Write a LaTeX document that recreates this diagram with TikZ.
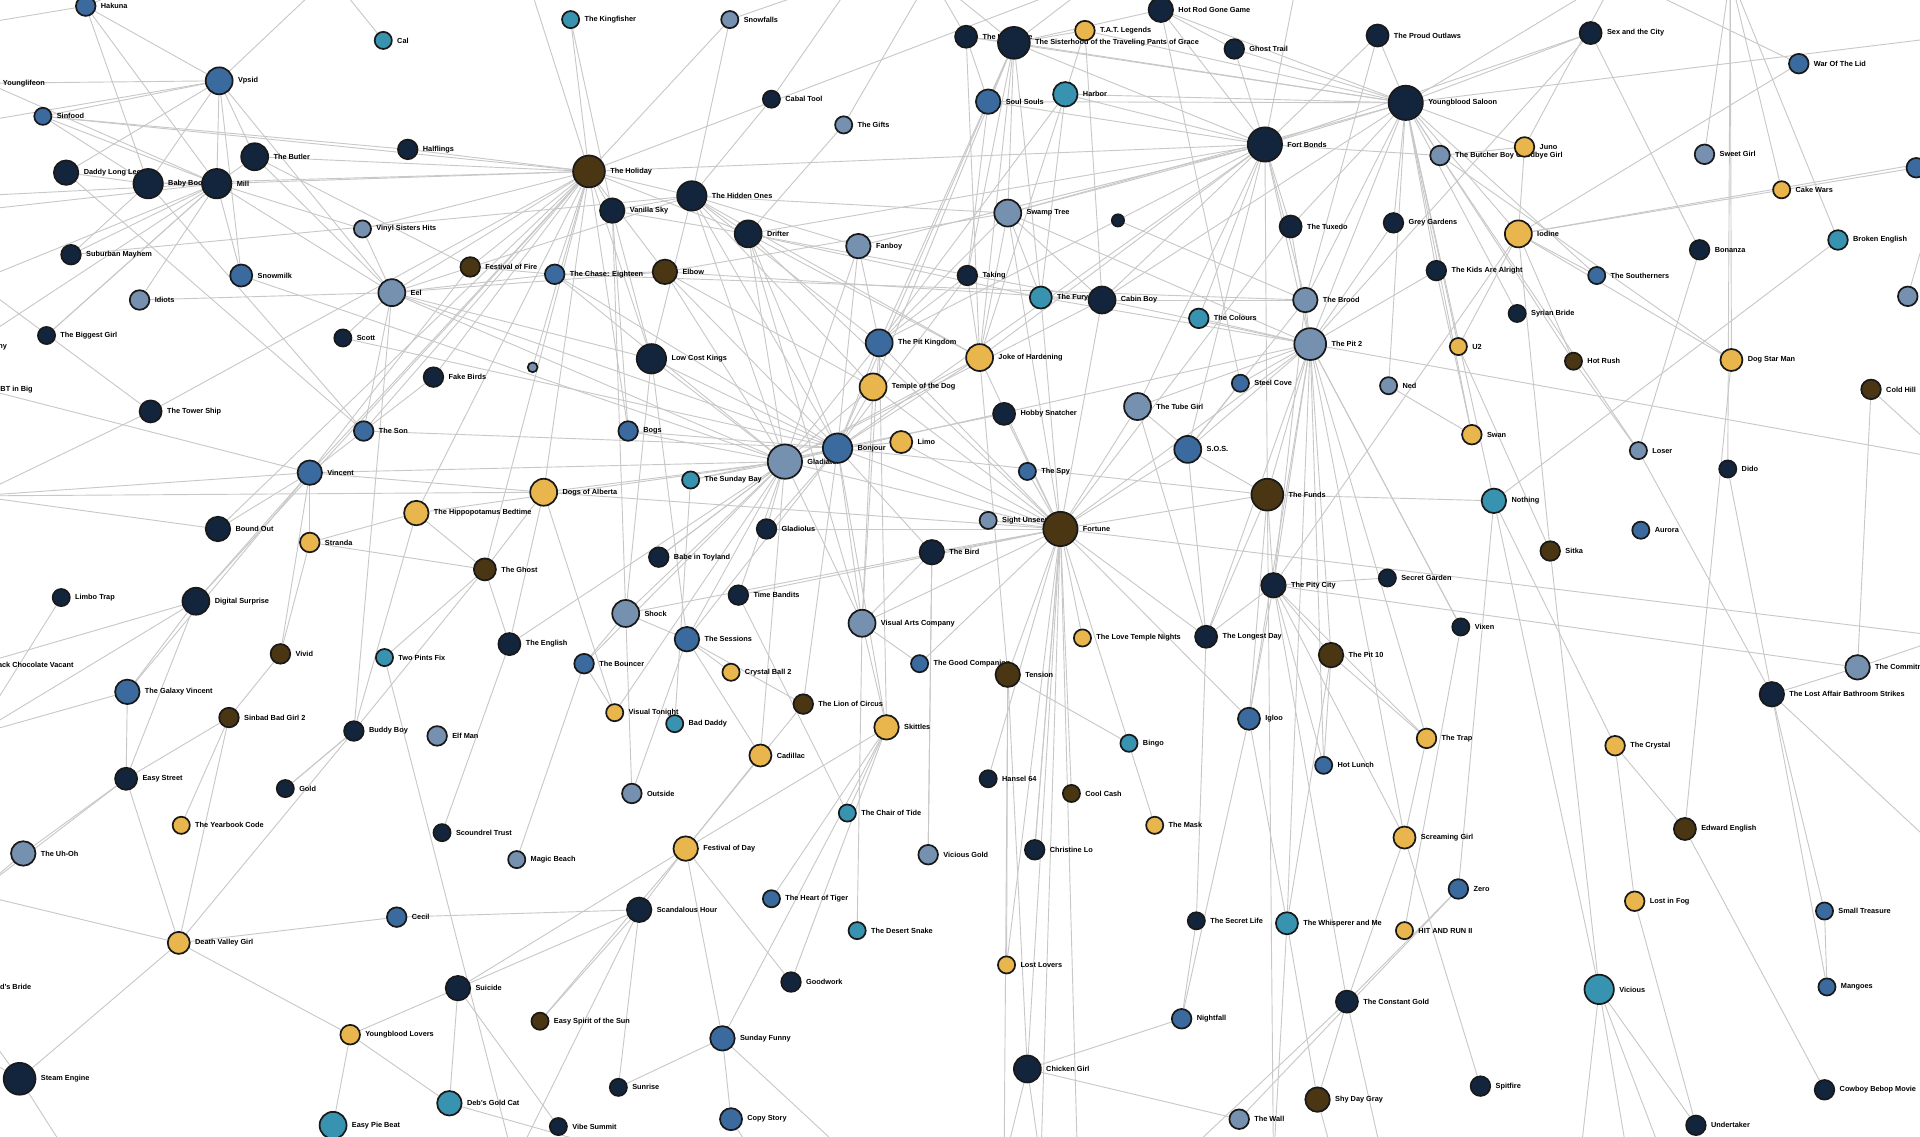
\documentclass[tikz,border=0pt]{standalone}
\usepackage{fontspec}
\setmainfont{Liberation Sans}
\usetikzlibrary{backgrounds}
\pgfdeclarelayer{bg}
\pgfsetlayers{bg,main}
\definecolor{cN}{HTML}{13253C}
\definecolor{cB}{HTML}{3B6A9E}
\definecolor{cS}{HTML}{7690B0}
\definecolor{cT}{HTML}{3893B1}
\definecolor{cG}{HTML}{E9B54D}
\definecolor{cR}{HTML}{4A3613}
\definecolor{edgec}{HTML}{C8C8C8}
\tikzset{
  vtx/.style={circle,draw=black!90,line width=1.4pt,inner sep=0pt},
  lbl/.style={font=\fontsize{6}{7}\selectfont\bfseries,inner sep=0.5pt,label distance=3pt,text=black},
  edge/.style={draw=edgec,line width=0.75pt}
}
\newcommand\nd[6]{\node[vtx,fill=#5,minimum size=#4*2pt,label={[lbl]0:#6}] (#1) at (#2,#3) {};}
\begin{document}
\begin{tikzpicture}[x=1pt,y=-1pt]
\useasboundingbox (0,0) rectangle (1568,928);
% nodes
\nd{a01}{70}{5}{8}{cB}{Hakuna}
\nd{a02}{313}{33}{7}{cT}{Cal}
\nd{a03}{466}{16}{7}{cT}{The Kingfisher}
\nd{a04}{596}{16}{7}{cS}{Snowfalls}
\nd{a05}{789}{30}{9}{cN}{The Incredible}
\nd{a06}{828}{35}{13}{cN}{The Sisterhood of the Traveling Pants of Grace}
\nd{a07}{886}{25}{8}{cG}{T.A.T. Legends}
\nd{a08}{948}{8}{10}{cN}{Hot Rod Gone Game}
\nd{a09}{1008}{40}{8}{cN}{Ghost Trail}
\nd{a10}{1125}{29}{9}{cN}{The Proud Outlaws}
\nd{a11}{1299}{27}{9}{cN}{Sex and the City}
\nd{a12}{1469}{52}{8}{cB}{War Of The Lid}
\nd{a13}{1565}{137}{8}{cB}{}
\nd{a14}{179}{66}{11}{cB}{Vpsid}
\nd{a15}{35}{95}{7}{cB}{Sinfood}
\nd{a17}{630}{81}{7}{cN}{Cabal Tool}
\nd{a18}{689}{102}{7}{cS}{The Gifts}
\nd{a19}{807}{83}{10}{cB}{Soul Souls}
\nd{a20}{870}{77}{10}{cT}{Harbor}
\nd{a21}{1033}{118}{14}{cN}{Fort Bonds}
\nd{a22}{1148}{84}{14}{cN}{Youngblood Saloon}
\nd{a23}{1176}{127}{8}{cS}{The Butcher Boy Goodbye Girl}
\nd{a24}{1245}{120}{8}{cG}{Juno}
\nd{a25}{1392}{126}{8}{cS}{Sweet Girl}
\nd{a26}{1455}{155}{7}{cG}{Cake Wars}
\nd{a27}{1501}{196}{8}{cT}{Broken English}
\nd{a28}{1558}{242}{8}{cS}{}
\nd{a29}{333}{122}{8}{cN}{Halflings}
\nd{a30}{208}{128}{11}{cN}{The Butler}
\nd{a31}{54}{141}{10}{cN}{Daddy Long Legs}
\nd{a32}{121}{150}{12}{cN}{Baby Boom}
\nd{a33}{177}{150}{12}{cN}{Mill}
\nd{a34}{481}{140}{13}{cR}{The Holiday}
\nd{a35}{500}{172}{10}{cN}{Vanilla Sky}
\nd{a36}{565}{160}{12}{cN}{The Hidden Ones}
\nd{a37}{611}{191}{11}{cN}{Drifter}
\nd{a38}{701}{201}{10}{cS}{Fanboy}
\nd{a39}{823}{174}{11}{cS}{Swamp Tree}
\nd{a40}{913}{180}{5}{cN}{}
\nd{a41}{1054}{185}{9}{cN}{The Tuxedo}
\nd{a42}{1138}{182}{8}{cN}{Grey Gardens}
\nd{a43}{1240}{191}{11}{cG}{Iodine}
\nd{a44}{1388}{204}{8}{cN}{Bonanza}
\nd{a45}{1173}{221}{8}{cN}{The Kids Are Alright}
\nd{a46}{1304}{225}{7}{cB}{The Southerners}
\nd{a47}{1239}{256}{7}{cN}{Syrian Bride}
\nd{a48}{296}{187}{7}{cS}{Vinyl Sisters Hits}
\nd{a49}{58}{208}{8}{cN}{Suburban Mayhem}
\nd{a50}{197}{225}{9}{cB}{Snowmilk}
\nd{a51}{114}{245}{8}{cS}{Idiots}
\nd{a52}{38}{274}{7}{cN}{The Biggest Girl}
\nd{a53}{280}{276}{7}{cN}{Scott}
\nd{a54}{320}{239}{11}{cS}{Eel}
\nd{a55}{384}{218}{8}{cR}{Festival of Fire}
\nd{a56}{453}{224}{8}{cB}{The Chase: Eighteen}
\nd{a57}{543}{222}{10}{cR}{Elbow}
\nd{a58}{790}{225}{8}{cN}{Taking}
\nd{a59}{850}{243}{9}{cT}{The Fury}
\nd{a60}{900}{245}{11}{cN}{Cabin Boy}
\nd{a61}{979}{260}{8}{cT}{The Colours}
\nd{a62}{1066}{245}{10}{cS}{The Brood}
\nd{a63}{1070}{281}{13}{cS}{The Pit 2}
\nd{a64}{1191}{283}{7}{cG}{U2}
\nd{a65}{1285}{295}{7}{cR}{Hot Rush}
\nd{a66}{1414}{294}{9}{cG}{Dog Star Man}
\nd{a67}{1528}{318}{8}{cR}{Cold Hill}
\nd{a68}{1134}{315}{7}{cS}{Ned}
\nd{a69}{1013}{313}{7}{cB}{Steel Cove}
\nd{a70}{354}{308}{8}{cN}{Fake Birds}
\nd{a71}{435}{300}{4}{cS}{}
\nd{a72}{532}{293}{12}{cN}{Low Cost Kings}
\nd{a73}{718}{280}{11}{cB}{The Pit Kingdom}
\nd{a74}{800}{292}{11}{cG}{Joke of Hardening}
\nd{a75}{713}{316}{11}{cG}{Temple of the Dog}
\nd{a76}{820}{338}{9}{cN}{Hobby Snatcher}
\nd{a77}{929}{332}{11}{cS}{The Tube Girl}
\nd{a78}{123}{336}{9}{cN}{The Tower Ship}
\nd{a79}{297}{352}{8}{cB}{The Son}
\nd{a80}{513}{352}{8}{cB}{Bogs}
\nd{a81}{641}{377}{14}{cS}{Gladiator}
\nd{a82}{684}{366}{12}{cB}{Bonjour}
\nd{a83}{736}{361}{9}{cG}{Limo}
\nd{a84}{839}{385}{7}{cB}{The Spy}
\nd{a85}{970}{367}{11}{cB}{S.O.S.}
\nd{a86}{1202}{355}{8}{cG}{Swan}
\nd{a87}{1338}{368}{7}{cS}{Loser}
\nd{a88}{1411}{383}{7}{cN}{Dido}
\nd{a89}{253}{386}{10}{cB}{Vincent}
\nd{a90}{564}{392}{7}{cT}{The Sunday Bay}
\nd{a91}{444}{402}{11}{cG}{Dogs of Alberta}
\nd{a92}{340}{419}{10}{cG}{The Hippopotamus Bedtime}
\nd{a93}{1035}{404}{13}{cR}{The Funds}
\nd{a94}{1220}{409}{10}{cT}{Nothing}
\nd{a95}{807}{425}{7}{cS}{Sight Unseen}
\nd{a96}{866}{432}{14}{cR}{Fortune}
\nd{a97}{178}{432}{10}{cN}{Bound Out}
\nd{a98}{253}{443}{8}{cG}{Stranda}
\nd{a99}{626}{432}{8}{cN}{Gladiolus}
\nd{a100}{1340}{433}{7}{cB}{Aurora}
\nd{a101}{1266}{450}{8}{cR}{Sitka}
\nd{a102}{396}{465}{9}{cR}{The Ghost}
\nd{a103}{538}{455}{8}{cN}{Babe in Toyland}
\nd{a104}{761}{451}{10}{cN}{The Bird}
\nd{a105}{1040}{478}{10}{cN}{The Pity City}
\nd{a106}{1133}{472}{7}{cN}{Secret Garden}
\nd{a107}{50}{488}{7}{cN}{Limbo Trap}
\nd{a108}{160}{491}{11}{cN}{Digital Surprise}
\nd{a109}{603}{486}{8}{cN}{Time Bandits}
\nd{a110}{511}{501}{11}{cS}{Shock}
\nd{a111}{704}{509}{11}{cS}{Visual Arts Company}
\nd{a112}{1193}{512}{7}{cN}{Vixen}
\nd{a113}{561}{522}{10}{cB}{The Sessions}
\nd{a114}{229}{534}{8}{cR}{Vivid}
\nd{a115}{314}{537}{7}{cT}{Two Pints Fix}
\nd{a116}{416}{526}{9}{cN}{The English}
\nd{a117}{477}{542}{8}{cB}{The Bouncer}
\nd{a118}{985}{520}{9}{cN}{The Longest Day}
\nd{a119}{884}{521}{7}{cG}{The Love Temple Nights}
\nd{a120}{1087}{535}{10}{cR}{The Pit 10}
\nd{a121}{1517}{545}{10}{cS}{The Commitment}
\nd{a122}{1447}{567}{10}{cN}{The Lost Affair Bathroom Strikes}
\nd{a123}{104}{565}{10}{cB}{The Galaxy Vincent}
\nd{a124}{751}{542}{7}{cB}{The Good Companion}
\nd{a125}{823}{551}{10}{cR}{Tension}
\nd{a126}{597}{549}{7}{cG}{Crystal Ball 2}
\nd{a127}{656}{575}{8}{cR}{The Lion of Circus}
\nd{a128}{187}{586}{8}{cR}{Sinbad Bad Girl 2}
\nd{a129}{289}{597}{8}{cN}{Buddy Boy}
\nd{a130}{357}{601}{8}{cS}{Elf Man}
\nd{a131}{502}{582}{7}{cG}{Visual Tonight}
\nd{a132}{551}{591}{7}{cT}{Bad Daddy}
\nd{a133}{724}{594}{10}{cG}{Skittles}
\nd{a134}{621}{617}{9}{cG}{Cadillac}
\nd{a135}{1020}{587}{9}{cB}{Igloo}
\nd{a136}{922}{607}{7}{cT}{Bingo}
\nd{a137}{1165}{603}{8}{cG}{The Trap}
\nd{a138}{1319}{609}{8}{cG}{The Crystal}
\nd{a139}{1081}{625}{7}{cB}{Hot Lunch}
\nd{a140}{103}{636}{9}{cN}{Easy Street}
\nd{a141}{233}{644}{7}{cN}{Gold}
\nd{a142}{148}{674}{7}{cG}{The Yearbook Code}
\nd{a143}{516}{648}{8}{cS}{Outside}
\nd{a144}{807}{636}{7}{cN}{Hansel 64}
\nd{a145}{875}{648}{7}{cR}{Cool Cash}
\nd{a146}{943}{674}{7}{cG}{The Mask}
\nd{a147}{692}{664}{7}{cT}{The Chair of Tide}
\nd{a148}{19}{697}{10}{cS}{The Uh-Oh}
\nd{a149}{361}{680}{7}{cN}{Scoundrel Trust}
\nd{a150}{422}{702}{7}{cS}{Magic Beach}
\nd{a151}{560}{693}{10}{cG}{Festival of Day}
\nd{a152}{758}{698}{8}{cS}{Vicious Gold}
\nd{a153}{845}{694}{8}{cN}{Christine Lo}
\nd{a154}{1147}{684}{9}{cG}{Screaming Girl}
\nd{a155}{1376}{677}{9}{cR}{Edward English}
\nd{a156}{1191}{726}{8}{cB}{Zero}
\nd{a157}{1335}{736}{8}{cG}{Lost in Fog}
\nd{a158}{630}{734}{7}{cB}{The Heart of Tiger}
\nd{a159}{700}{760}{7}{cT}{The Desert Snake}
\nd{a160}{324}{749}{8}{cB}{Cecil}
\nd{a161}{522}{743}{10}{cN}{Scandalous Hour}
\nd{a162}{146}{770}{9}{cG}{Death Valley Girl}
\nd{a163}{977}{752}{7}{cN}{The Secret Life}
\nd{a164}{1051}{754}{9}{cT}{The Whisperer and Me}
\nd{a165}{1147}{760}{7}{cG}{HIT AND RUN II}
\nd{a166}{1490}{744}{7}{cB}{Small Treasure}
\nd{a167}{822}{788}{7}{cG}{Lost Lovers}
\nd{a168}{646}{802}{8}{cN}{Goodwork}
\nd{a169}{374}{807}{10}{cN}{Suicide}
\nd{a170}{1306}{808}{12}{cT}{Vicious}
\nd{a171}{1492}{806}{7}{cB}{Mangoes}
\nd{a172}{1100}{818}{9}{cN}{The Constant Gold}
\nd{a173}{965}{832}{8}{cB}{Nightfall}
\nd{a174}{441}{834}{7}{cR}{Easy Spirit of the Sun}
\nd{a175}{590}{848}{10}{cB}{Sunday Funny}
\nd{a176}{286}{845}{8}{cG}{Youngblood Lovers}
\nd{a177}{839}{873}{11}{cN}{Chicken Girl}
\nd{a178}{16}{881}{13}{cN}{Steam Engine}
\nd{a179}{1076}{898}{10}{cR}{Shy Day Gray}
\nd{a180}{1209}{887}{8}{cN}{Spitfire}
\nd{a181}{1490}{890}{8}{cN}{Cowboy Bebop Movie}
\nd{a182}{1012}{914}{8}{cS}{The Wall}
\nd{a183}{505}{888}{7}{cN}{Sunrise}
\nd{a184}{367}{901}{10}{cT}{Deb's Gold Cat}
\nd{a185}{272}{919}{11}{cT}{Easy Pie Beat}
\nd{a186}{456}{920}{7}{cN}{Vibe Summit}
\nd{a187}{597}{914}{9}{cB}{Copy Story}
\nd{a188}{1385}{919}{8}{cN}{Undertaker}
% partly hidden nodes at the left edge
\nd{L1}{-10}{68}{8}{cN}{Younglifeon}
\nd{L2}{-48}{175}{8}{cN}{Fallen Angel}
\nd{L3}{-25}{283}{8}{cN}{Sunny}
\nd{L4}{-12}{318}{8}{cN}{BT in Big}
\nd{L5}{-19}{543}{7}{cN}{Black Chocolate Vacant}
\nd{L6}{-38}{806}{8}{cN}{Bluebeard's Bride}
% free ends outside the picture
\coordinate (oT1) at (1413,-20); \coordinate (oT2) at (560,-20);
\coordinate (oT3) at (430,-20); \coordinate (oT4) at (900,-20);
\coordinate (oT5) at (130,-20); \coordinate (oT6) at (270,-20);
\coordinate (oT7) at (700,-20); \coordinate (oT8) at (1320,-20);
\coordinate (oT9) at (1060,-20); \coordinate (oT10) at (760,-20);
\coordinate (oL1) at (-20,100); \coordinate (oL2) at (-20,160);
\coordinate (oL3) at (-20,230); \coordinate (oL4) at (-20,405);
\coordinate (oL5) at (-20,600); \coordinate (oL6) at (-20,730);
\coordinate (oL7) at (-20,860); \coordinate (oL8) at (-20,20);
\coordinate (oR1) at (1590,130); \coordinate (oR2) at (1590,375);
\coordinate (oR3) at (1590,520); \coordinate (oR4) at (1590,700);
\coordinate (oR5) at (1590,30);
\coordinate (oB1) at (60,950); \coordinate (oB2) at (250,950);
\coordinate (oB3) at (420,950); \coordinate (oB4) at (540,950);
\coordinate (oB5) at (700,950); \coordinate (oB6) at (850,950);
\coordinate (oB7) at (880,950); \coordinate (oB8) at (1040,950);
\coordinate (oB9) at (1090,950); \coordinate (oB10) at (1290,950);
\coordinate (oB11) at (1330,950); \coordinate (oB12) at (1360,950);
\coordinate (oB13) at (620,950); \coordinate (oB14) at (820,950);
\coordinate (oB15) at (960,950); \coordinate (oB16) at (1130,950);
\begin{pgfonlayer}{bg}
\fill[white] (0,0) rectangle (1568,928);
\foreach \a/\b in {a01/a14,a01/a32,a01/a33,a01/oT5,a01/oL8,
a14/a33,a14/a30,a14/a31,a14/a32,a14/a54,a14/oL1,a14/oT6,a14/a15,a14/a50,
a33/a32,a33/a15,a33/a49,a33/a50,a33/a51,a33/a52,a33/a54,a33/oL2,a33/oL3,a33/a34,a33/a48,
a32/a31,a32/a34,a32/a15,a32/a49,a32/a79,
a30/a34,a30/a54,a30/a33,a30/a55,a31/a79,a15/a34,a29/a34,a29/a15,
a49/a36,a51/a54,a52/a33,a50/a81,a48/a34,a48/a54,a53/a54,a53/a82,
a54/a79,a54/a82,a54/a81,a54/a72,a54/a129,a54/a56,a54/a57,
a02/oT6,a03/a35,a03/a34,a04/a34,a04/a36,a04/oT7,a17/a36,a17/oT7,a18/a37,a18/oT10,
a35/a36,a35/a37,a35/a80,a35/a72,a35/a110,
a36/a37,a36/a81,a36/a82,a36/a75,a36/a73,a36/a39,a36/a38,a36/a72,a36/a54,a36/a74,
a37/a81,a37/a82,a37/a74,a37/a96,a37/a21,a37/a60,a37/a111,a37/a59,
a38/a81,a38/a21,a38/a73,a38/a82,
a55/a56,a55/a89,a56/a57,a56/a81,a56/a82,a56/a62,
a57/a81,a57/a82,a57/a75,a57/a60,a57/a39,
a70/a34,a70/a89,a71/a34,
a72/a81,a72/a82,a72/a34,a72/a110,a72/a113,
a34/a21,a34/a35,a34/a36,a34/a37,a34/a55,a34/a56,a34/a57,a34/a79,a34/a89,a34/a91,a34/a80,a34/a54,a34/a97,a34/a108,a34/a92,a34/a102,a34/oT3,a34/oT4,
a06/a05,a06/a07,a06/a21,a06/a22,a06/a19,a06/a39,a06/a58,a06/a59,a06/a73,a06/a74,a06/a08,a06/a75,a06/oT10,a06/oT4,
a05/a19,a05/a22,a05/a74,a05/oT10,a07/a20,a07/a22,a07/a60,
a08/a21,a08/a22,a08/a09,a08/a69,a09/a21,a09/a22,
a10/a22,a10/a21,a10/a62,a11/a22,a11/a21,a11/a44,a11/a63,
a12/a43,a12/oT8,a13/a43,a13/oR1,
a19/a21,a19/a22,a19/a58,a19/a82,a20/a21,a20/a22,a20/a74,a20/a73,a20/a59,
a21/a22,a21/a39,a21/a41,a21/a62,a21/a63,a21/a93,a21/a60,a21/a77,a21/a74,a21/a73,a21/a23,a21/a85,a21/oT9,a21/a82,
a22/a23,a22/a24,a22/a43,a22/a45,a22/a46,a22/a47,a22/a64,a22/a65,a22/a68,a22/a86,a22/a62,a22/a63,a22/a41,a22/a42,a22/a39,a22/a60,a22/a94,a22/oT8,a22/oR5,
a23/a66,a23/a24,a23/a87,a24/a43,a24/oT8,
a25/oT1,a26/oT1,a27/oT1,a27/a94,a28/oR1,
a43/a66,a43/a46,a43/a101,a43/a65,a43/a105,a43/a64,a43/oR1,
a44/a87,a45/a63,a45/a86,
a39/a60,a39/a59,a39/a74,a39/a73,a39/a96,a39/a63,a40/a62,
a41/a63,a41/a96,a42/a63,a58/a74,a58/a82,a58/a73,
a59/a60,a59/a63,a59/a96,a60/a62,a60/a96,a60/a81,a60/a63,
a61/a63,a61/a21,a62/a63,a62/a105,a62/a85,
a63/a93,a63/a105,a63/a118,a63/a120,a63/a135,a63/a139,a63/a154,a63/a164,a63/a85,a63/a77,a63/a69,a63/a81,a63/oR2,a63/a96,a63/a112,a63/a137,
a64/a101,a66/oT1,a66/a155,a67/a121,a67/oR2,a68/a86,a69/a85,
a73/a81,a73/a82,a73/a111,a73/a96,a73/a133,
a74/a82,a74/a96,a74/a81,a74/a125,
a75/a81,a75/a82,a75/a96,a75/a111,a76/a96,a76/a82,
a77/a96,a77/a85,a77/a118,a78/oL4,a78/oL3,a78/a34,a79/a82,
a80/a81,a80/a82,
a81/a82,a81/a96,a81/a110,a81/a113,a81/a111,a81/a117,a81/a89,a81/a91,a81/a109,a81/a99,a81/a103,a81/a116,a81/a134,a81/a131,
a82/a96,a82/a111,a82/a104,a82/a113,a82/a133,a82/a93,a82/a127,
a83/a96,a83/a82,a84/a96,a85/a96,a85/a93,a85/a118,
a87/a122,a87/a65,a88/oT1,a88/a122,
a89/oL4,a89/a91,a89/a108,a89/a98,a89/a114,a89/a123,a89/a97,
a90/a81,a90/a132,a90/a82,
a91/oL4,a91/a96,a91/a116,a91/a131,a91/a102,
a92/a81,a92/a102,a92/a98,a92/a129,
a93/a96,a93/a94,a93/a105,a93/a118,a93/oB8,a93/a135,
a94/a138,a94/a156,a94/a170,a95/a96,
a96/a104,a96/a111,a96/a125,a96/a119,a96/a118,a96/a135,a96/a167,a96/a177,a96/a144,a96/a145,a96/a153,a96/a146,a96/oB6,a96/oB7,a96/a99,a96/a110,a96/a109,a96/oR3,
a97/oL4,a99/a82,a101/a170,a102/a98,a102/a129,
a103/a81,a104/a111,a104/a152,
a105/a121,a105/a120,a105/a135,a105/a137,a105/a139,a105/a106,a105/a154,a105/a118,a105/a172,
a107/oL5,a108/oL5,a108/a123,a108/a140,
a110/a117,a110/a113,a110/a143,a111/a133,a111/a124,
a112/a63,a112/a165,
a113/a126,a113/a134,a113/a127,a113/a143,a114/a128,a114/a98,
a115/a102,a115/oB3,a116/a102,a117/a131,a118/a163,
a120/a164,a120/a139,a120/a137,a121/oR3,a121/a122,
a122/a166,a122/a171,a122/oR4,a123/oL5,a123/a140,
a124/a96,a125/a167,a125/a177,a125/a136,a125/oB14,
a127/a151,a128/a140,a128/a162,a129/a162,a129/a141,
a133/a151,a133/a147,a133/a168,a133/a175,a134/a151,
a135/a164,a135/a173,a137/a154,a138/a157,
a140/oL6,a140/a148,a140/a162,a148/oL6,
a151/a161,a151/a175,a151/a168,a151/a169,
a154/a172,a154/a180,a155/a181,a155/a138,a156/a172,a156/a182,
a157/a188,a160/a162,a160/a161,a161/a169,a161/oB3,
a162/a176,a162/a178,a162/oL6,a163/a173,a164/a179,a164/oB8,
a166/a171,a169/a176,a169/a184,
a170/a188,a170/oB10,a170/oB11,a170/oB12,
a172/a179,a172/oB16,a172/oB15,a173/a177,
a175/a187,a175/oB5,a175/a183,a176/a184,a176/a185,
a177/a182,a177/oB6,a177/oB14,a178/oB1,a178/oL7,
a184/oB4,a187/oB13,a179/oB9,a185/oB2,
a141/a129,a142/a128,a149/a116,a150/a117,a158/a133,a159/a111,a147/a109,a152/a104,a153/a96,
a186/a169,a183/a161,a174/a161,a174/a151,
L1/a14,L1/a33,L2/a33,L3/a33,L4/a89,L5/a108,L6/a178}
{\draw[edge] (\a) -- (\b);}
\end{pgfonlayer}
\end{tikzpicture}
\end{document}
